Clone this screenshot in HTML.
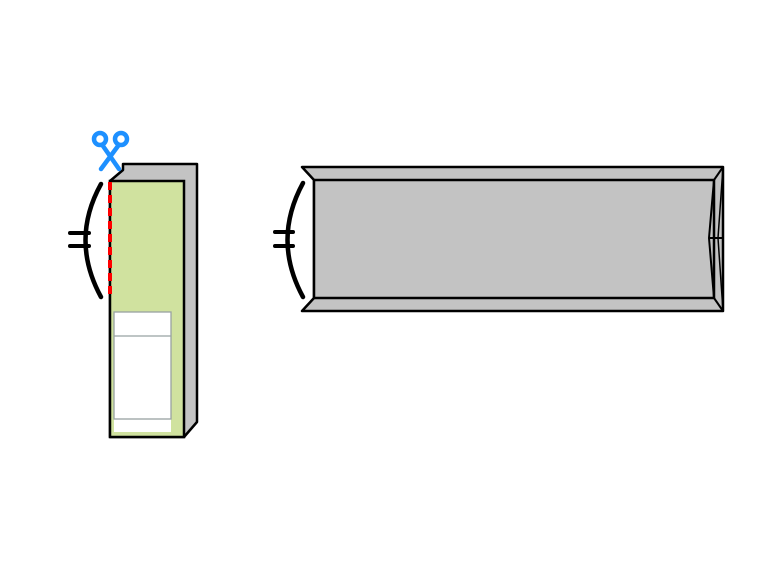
<!DOCTYPE html>
<html><head><style>body{margin:0;background:#fff}</style></head><body>
<svg width="774" height="581" viewBox="0 0 774 581" xmlns="http://www.w3.org/2000/svg">
<rect width="774" height="581" fill="#fff"/>
<polygon points="123,164 197,164 197,422 184,437 110,437 110,181 123,170" fill="#c3c3c3" stroke="#000" stroke-width="2.5" stroke-linejoin="round"/>
<line x1="184" y1="437" x2="197" y2="422" stroke="#000" stroke-width="2"/>
<rect x="110" y="181" width="74" height="256" fill="#d0e29f" stroke="#000" stroke-width="2.5"/>
<rect x="114" y="419" width="57" height="13" fill="#fff"/>
<rect x="114" y="312" width="57" height="107" fill="#fff" stroke="#98a2a2" stroke-width="1.3"/>
<line x1="114" y1="336" x2="171" y2="336" stroke="#98a2a2" stroke-width="1.3"/>
<line x1="110" y1="182" x2="110" y2="297" stroke="#f00" stroke-width="4" stroke-dasharray="8,5"/>
<path d="M101,184 Q70,240 101,297" fill="none" stroke="#000" stroke-width="4.5" stroke-linecap="round"/>
<line x1="70" y1="233" x2="89" y2="233" stroke="#000" stroke-width="4" stroke-linecap="round"/>
<line x1="70" y1="246" x2="89" y2="246" stroke="#000" stroke-width="4" stroke-linecap="round"/>
<g stroke="#1e90ff" fill="none" stroke-width="4.5" stroke-linecap="round">
<circle cx="100" cy="139" r="6"/>
<circle cx="121" cy="139" r="6"/>
<line x1="103" y1="146" x2="119" y2="169"/>
<line x1="118" y1="146" x2="101" y2="169"/>
</g>
<polygon points="302,167 723,167 723,311 302,311 314,298 314,180" fill="#c3c3c3" stroke="#000" stroke-width="2.5" stroke-linejoin="round"/>
<rect x="314" y="180" width="400" height="118" fill="#c3c3c3" stroke="#000" stroke-width="2.5"/>
<line x1="302" y1="167" x2="314" y2="180" stroke="#000" stroke-width="2"/>
<line x1="302" y1="311" x2="314" y2="298" stroke="#000" stroke-width="2"/>
<line x1="723" y1="167" x2="714" y2="180" stroke="#000" stroke-width="2"/>
<line x1="723" y1="311" x2="714" y2="298" stroke="#000" stroke-width="2"/>
<polyline points="714,180 709,238 714,298" fill="none" stroke="#000" stroke-width="2"/>
<polyline points="723,167 718,238 723,311" fill="none" stroke="#000" stroke-width="1.5"/>
<line x1="709" y1="238" x2="722" y2="238" stroke="#000" stroke-width="2"/>
<path d="M303,183 Q272,240 303,297" fill="none" stroke="#000" stroke-width="4.5" stroke-linecap="round"/>
<line x1="275" y1="232" x2="293" y2="232" stroke="#000" stroke-width="4" stroke-linecap="round"/>
<line x1="275" y1="246" x2="293" y2="246" stroke="#000" stroke-width="4" stroke-linecap="round"/>
</svg>
</body></html>
